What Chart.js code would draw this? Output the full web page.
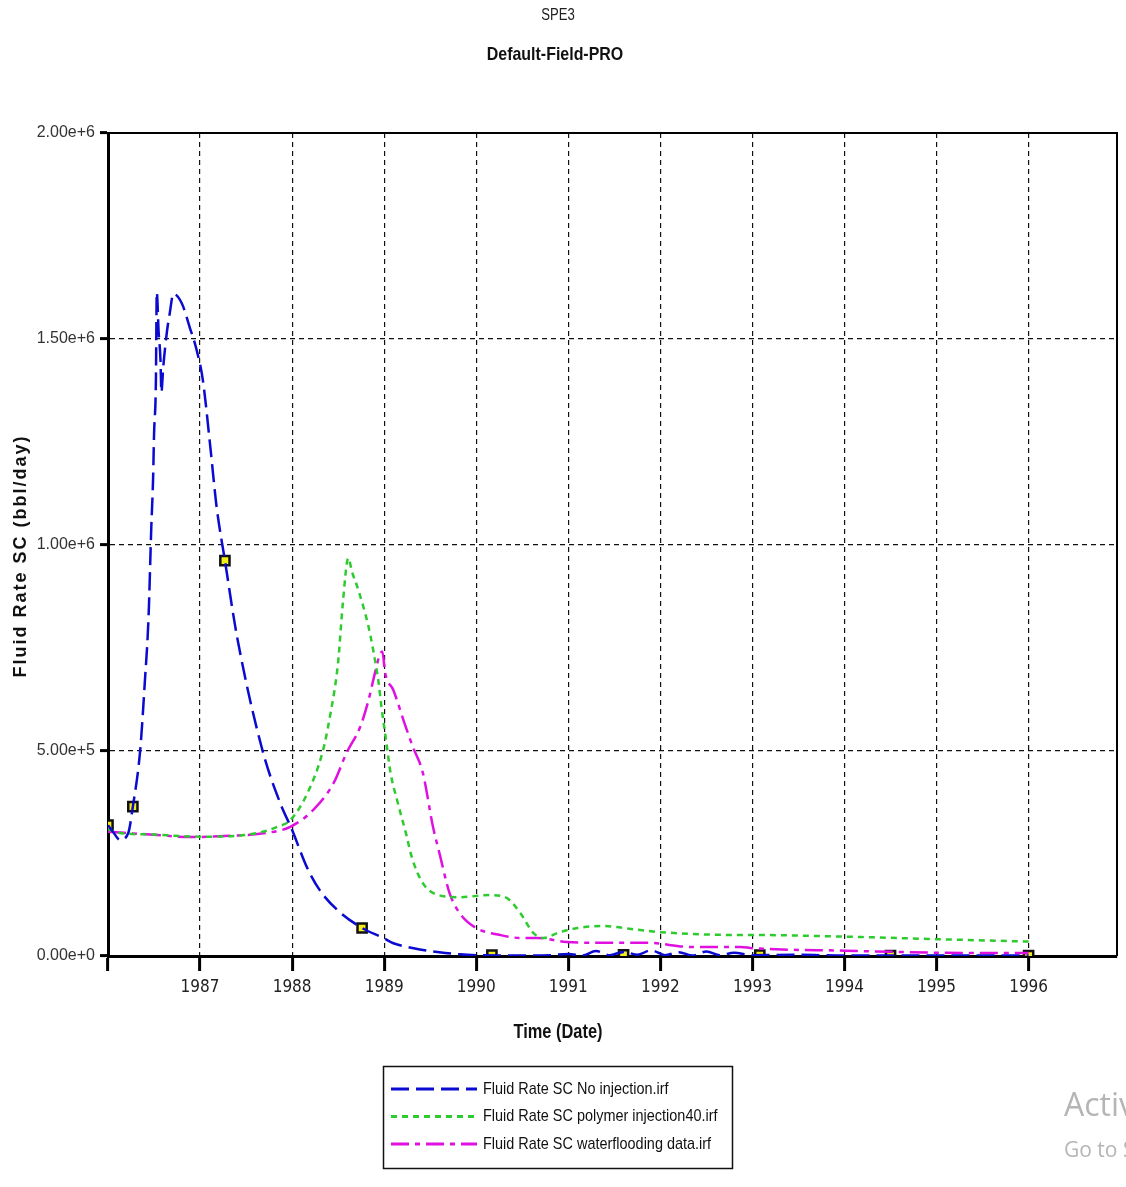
<!DOCTYPE html>
<html>
<head>
<meta charset="utf-8">
<script src="https://cdn.jsdelivr.net/npm/chart.js@4.4.1/dist/chart.umd.min.js"></script>
<style>
  body { margin: 0; background: #fff; }
  #wrap { width: 1126px; height: 1187px; }
</style>
</head>
<body>
<div id="wrap"><canvas id="rateChart" width="1126" height="1187"></canvas></div>
<script>
// the original text is Arial / Arial Narrow; narrow text is drawn squeezed
var narrow = "'DejaVu Sans Condensed', 'Liberation Sans', sans-serif";
var plain = "'Liberation Sans', Arial, sans-serif";

// ---- data (time in decimal years, rate in bbl/day) ----
var noInjYears = [1986.00, 1986.06, 1986.13, 1986.22, 1986.27, 1986.35, 1986.40, 1986.44, 1986.47,
  1986.49, 1986.50, 1986.52, 1986.53, 1986.55, 1986.57, 1986.58, 1986.60, 1986.64, 1986.67,
  1986.71, 1986.80, 1986.89, 1986.96, 1987.03, 1987.11, 1987.18, 1987.27, 1987.40, 1987.68,
  1987.87, 1988.00, 1988.16, 1988.30, 1988.49, 1988.76, 1988.99, 1989.10, 1989.32, 1989.60,
  1989.82, 1990.00, 1990.40, 1990.80, 1991.00, 1991.15, 1991.30, 1991.45, 1991.60, 1991.75,
  1991.90, 1992.05, 1992.20, 1992.35, 1992.50, 1992.65, 1992.80, 1993.00, 1993.50, 1994.00,
  1995.00, 1996.00];
var noInjRates = [318000, 300000, 282000, 299000, 363000, 501000, 666000, 821000, 1040000,
  1162000, 1266000, 1393000, 1613000, 1517000, 1449000, 1370000, 1431000, 1517000, 1561000,
  1609000, 1587000, 1526000, 1475000, 1400000, 1240000, 1091000, 961000, 778000, 498000,
  372000, 306000, 216000, 160000, 112000, 68000, 44000, 31000, 19000, 9000,
  4000, 2000, 1000, 2000, 5000, 1000, 12000, 2000, 10000, 3000,
  14000, 2000, 9000, 1000, 11000, 2000, 8000, 2000, 3000, 1000,
  1000, 1000];

var polyYears = [1986.00, 1986.10, 1986.50, 1987.00, 1987.40, 1987.70, 1987.84, 1987.98, 1988.16,
  1988.33, 1988.41, 1988.50, 1988.55, 1988.61, 1988.65, 1988.72, 1988.83, 1988.88, 1988.94,
  1988.97, 1989.02, 1989.07, 1989.14, 1989.24, 1989.30, 1989.42, 1989.59, 1989.82, 1990.15,
  1990.33, 1990.48, 1990.62, 1990.73, 1990.91, 1991.10, 1991.35, 1991.78, 1992.00, 1992.87,
  1993.00, 1994.00, 1995.00, 1996.00];
var polyRates = [308000, 300000, 295000, 290000, 292000, 303000, 314000, 330000, 393000,
  495000, 581000, 715000, 855000, 967000, 934000, 889000, 800000, 744000, 663000,
  606000, 525000, 444000, 379000, 295000, 240000, 177000, 148000, 143000, 148000,
  141000, 104000, 56000, 44000, 58000, 68000, 73000, 63000, 58000, 51000,
  51000, 47000, 41000, 35000];

var waterYears = [1986.00, 1986.53, 1986.89, 1987.32, 1987.72, 1987.98, 1988.23, 1988.45, 1988.59,
  1988.74, 1988.83, 1988.90, 1988.95, 1988.98, 1989.01, 1989.10, 1989.22, 1989.31, 1989.42,
  1989.53, 1989.60, 1989.71, 1989.82, 1990.00, 1990.26, 1990.47, 1990.66, 1990.98, 1991.35,
  1991.86, 1992.33, 1992.87, 1993.00, 1994.00, 1995.00, 1996.00];
var waterRates = [302000, 294000, 289000, 292000, 299000, 314000, 355000, 420000, 493000,
  557000, 622000, 688000, 731000, 740000, 688000, 646000, 566000, 509000, 445000,
  314000, 250000, 153000, 104000, 68000, 51000, 44000, 44000, 34000, 32000,
  32000, 22000, 22000, 19000, 13000, 8000, 7000];

// yellow square markers the simulator puts on the first curve
var markerYears = [1986.00, 1986.27, 1987.27, 1988.76, 1990.17, 1991.60, 1993.08, 1994.50, 1996.00];
var markerRates = [318000, 363000, 961000, 68000, 2000, 3000, 2000, 1000, 1000];

var seriesLabels = ["Fluid Rate SC No injection.irf", "Fluid Rate SC polymer injection40.irf",
  "Fluid Rate SC waterflooding data.irf"];
var yearTicks = [1987, 1988, 1989, 1990, 1991, 1992, 1993, 1994, 1995, 1996];

function toPoints(xs, ys) {
  var pts = [];
  for (var i = 0; i < xs.length; i++) pts.push({ x: xs[i], y: ys[i] });
  return pts;
}

// text drawn squeezed sideways, to look like Arial Narrow
function narrowText(c, txt, x, y, font, squeeze, align) {
  c.save();
  c.font = font;
  c.textAlign = align || "center";
  c.textBaseline = "middle";
  c.translate(x, y);
  c.scale(squeeze, 1);
  c.fillText(txt, 0, 0);
  c.restore();
}

// draws the box round the plot (top and right sides)
var frame = {
  id: "frame",
  afterDatasetsDraw: function (chart) {
    var a = chart.chartArea, c = chart.ctx;
    c.save();
    c.strokeStyle = "#000";
    c.lineWidth = 2;
    c.beginPath();
    c.moveTo(a.left, a.top);
    c.lineTo(a.right, a.top);
    c.lineTo(a.right, a.bottom);
    c.stroke();
    c.restore();
  }
};

// titles, axis titles, framed legend
var texts = {
  id: "texts",
  afterDraw: function (chart) {
    var c = chart.ctx;
    c.save();
    c.fillStyle = "#222";
    narrowText(c, "SPE3", 558, 16, "16px " + plain, 0.82);
    c.fillStyle = "#111";
    narrowText(c, "Default-Field-PRO", 555, 55, "bold 19px " + plain, 0.84);
    narrowText(c, "Time (Date)", 558, 1032, "bold 20px " + plain, 0.82);

    // y axis title
    c.save();
    c.translate(21, 556);
    c.rotate(-Math.PI / 2);
    c.font = "bold 18px " + plain;
    c.letterSpacing = "2px";
    c.textAlign = "center";
    c.textBaseline = "middle";
    c.fillText("Fluid Rate SC (bbl/day)", 0, 0);
    c.restore();

    // legend box
    c.strokeStyle = "#111";
    c.lineWidth = 1.5;
    c.strokeRect(383.5, 1066.5, 349, 102);
    var rowY = 1089;
    chart.data.datasets.forEach(function (ds) {
      if (ds.isMarker) return;
      c.strokeStyle = ds.borderColor;
      c.lineWidth = 3;
      c.setLineDash(ds.borderDash);
      c.beginPath();
      c.moveTo(391, rowY);
      c.lineTo(477, rowY);
      c.stroke();
      c.setLineDash([]);
      c.fillStyle = "#111";
      narrowText(c, ds.label, 483, rowY, "17px " + plain, 0.85, "left");
      rowY += 27.5;
    });

    // OS watermark visible at the edge of the screenshot
    c.fillStyle = "#b5b5b5";
    c.font = "32px 'Open Sans', sans-serif";
    c.textBaseline = "alphabetic";
    c.fillText("Activate Windows", 1064, 1116);
    c.font = "21px 'Open Sans', sans-serif";
    c.fillText("Go to Settings to activate Windows.", 1064, 1157);
    c.restore();
  }
};

var ctx = document.getElementById("rateChart");

new Chart(ctx, {
  type: "line",
  data: {
    datasets: [
      {
        label: seriesLabels[0],
        data: toPoints(noInjYears, noInjRates),
        borderColor: "#0a0ad0",
        borderWidth: 2.5,
        borderDash: [18, 7],
        pointRadius: 0,
        cubicInterpolationMode: "monotone",
        fill: false
      },
      {
        label: seriesLabels[1],
        data: toPoints(polyYears, polyRates),
        borderColor: "#2ecb2e",
        borderWidth: 2.5,
        borderDash: [6, 5],
        pointRadius: 0,
        cubicInterpolationMode: "monotone",
        fill: false
      },
      {
        label: seriesLabels[2],
        data: toPoints(waterYears, waterRates),
        borderColor: "#e010e0",
        borderWidth: 2.5,
        borderDash: [18, 6, 5, 6],
        pointRadius: 0,
        cubicInterpolationMode: "monotone",
        fill: false
      },
      {
        label: "markers",
        isMarker: true,
        data: toPoints(markerYears, markerRates),
        showLine: false,
        pointStyle: "rect",
        pointRadius: 6.5,
        pointBackgroundColor: "#f2ee1a",
        pointBorderColor: "#111",
        pointBorderWidth: 2.5
      }
    ]
  },
  options: {
    responsive: false,
    animation: false,
    devicePixelRatio: 1,
    layout: { padding: { left: 0, right: 9, top: 133, bottom: 131 } },
    plugins: {
      legend: { display: false },
      tooltip: { enabled: false }
    },
    scales: {
      x: {
        type: "linear",
        min: 1986,
        max: 1996.96,
        afterFit: function (s) { s.height = 100; },
        afterBuildTicks: function (s) {
          s.ticks = [{ value: 1986 }].concat(yearTicks.map(function (v) { return { value: v }; }));
        },
        ticks: {
          color: "#222",
          padding: 6,
          maxRotation: 0,
          font: { family: narrow, size: 17 },
          callback: function (v) { return yearTicks.indexOf(v) >= 0 ? String(v) : ""; }
        },
        grid: {
          color: "#111",
          lineWidth: 1.2,
          tickLength: 15,
          tickWidth: 3,
          tickColor: "#000"
        },
        border: { display: true, color: "#000", width: 3, dash: [5, 4] }
      },
      y: {
        min: 0,
        max: 2000000,
        afterFit: function (s) { s.width = 108; },
        ticks: {
          stepSize: 500000,
          color: "#333",
          padding: 5,
          font: { family: plain, size: 16 },
          callback: function (v) { return Number(v).toExponential(2); }
        },
        grid: {
          color: "#111",
          lineWidth: 1.2,
          tickLength: 8,
          tickWidth: 3,
          tickColor: "#000"
        },
        border: { display: true, color: "#000", width: 3, dash: [5, 4] }
      }
    }
  },
  plugins: [frame, texts]
});
</script>
</body>
</html>
